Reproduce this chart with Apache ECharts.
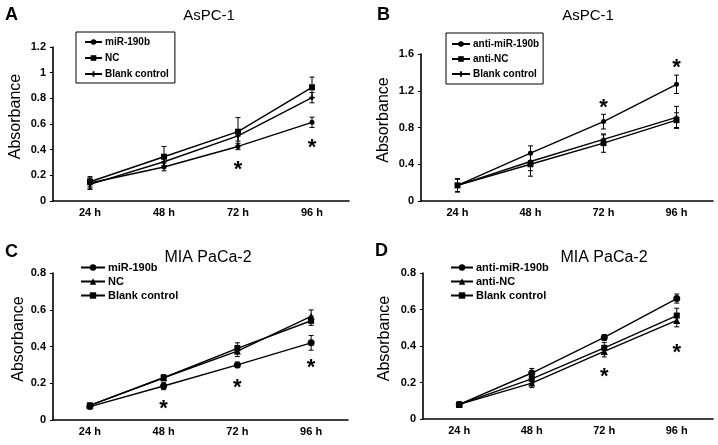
<!DOCTYPE html>
<html>
<head>
<meta charset="utf-8">
<script src="https://cdn.jsdelivr.net/npm/echarts@6/dist/echarts.min.js"></script>
<style>
html,body{margin:0;padding:0;background:#fff;}
#chart{width:718px;height:445px;}
</style>
</head>
<body>
<div id="chart"></div>
<script>
// ---------- data ----------
const timeLabels = ['24 h', '48 h', '72 h', '96 h'];

// Panel A: AsPC-1 (miR-190b)
const aNames = ['miR-190b', 'NC', 'Blank control'];
const aMir = [0.14, 0.265, 0.425, 0.613];
const aMirErr = [0.04, 0.03, 0.025, 0.04];
const aNC = [0.15, 0.345, 0.54, 0.886];
const aNCErr = [0.04, 0.08, 0.11, 0.08];
const aBlank = [0.13, 0.306, 0.507, 0.805];
const aBlankErr = [0.04, 0.03, 0.04, 0.04];
const aStars = [[2, 0.28], [3, 0.455]];
const aYMax = 1.2, aYStep = 0.2;

// Panel B: AsPC-1 (anti-miR-190b)
const bNames = ['anti-miR-190b', 'anti-NC', 'Blank control'];
const bMir = [0.17, 0.52, 0.864, 1.27];
const bMirErr = [0.07, 0.08, 0.08, 0.1];
const bNC = [0.17, 0.40, 0.63, 0.88];
const bNCErr = [0.07, 0.13, 0.1, 0.08];
const bBlank = [0.17, 0.43, 0.67, 0.91];
const bBlankErr = [0.07, 0.1, 0.05, 0.12];
const bStars = [[2, 1.065], [3, 1.50]];
const bYMax = 1.6, bYStep = 0.4;

// Panel C: MIA PaCa-2 (miR-190b)
const cNames = ['miR-190b', 'NC', 'Blank control'];
const cMir = [0.073, 0.185, 0.30, 0.42];
const cMirErr = [0.01, 0.02, 0.015, 0.04];
const cNC = [0.08, 0.23, 0.375, 0.564];
const cNCErr = [0.01, 0.015, 0.03, 0.035];
const cBlank = [0.08, 0.23, 0.39, 0.54];
const cBlankErr = [0.01, 0.015, 0.03, 0.025];
const cStars = [[1, 0.09], [2, 0.20], [3, 0.31]];
const cYMax = 0.8, cYStep = 0.2;

// Panel D: MIA PaCa-2 (anti-miR-190b)
const dNames = ['anti-miR-190b', 'anti-NC', 'Blank control'];
const dMir = [0.08, 0.252, 0.447, 0.66];
const dMirErr = [0.01, 0.025, 0.015, 0.025];
const dNC = [0.08, 0.197, 0.37, 0.54];
const dNCErr = [0.01, 0.025, 0.03, 0.035];
const dBlank = [0.08, 0.22, 0.39, 0.567];
const dBlankErr = [0.01, 0.025, 0.03, 0.04];
const dStars = [[2, 0.26], [3, 0.39]];
const dYMax = 0.8, dYStep = 0.2;

const panelTitles = ['AsPC-1', 'AsPC-1', 'MIA PaCa-2', 'MIA PaCa-2'];
const panelLetters = ['A', 'B', 'C', 'D'];

// ---------- layout / styles ----------
const FONT = '"Liberation Sans", Arial, Helvetica, sans-serif';
const PLUS = 'path://M2,0H4V2H6V4H4V6H2V4H0V2H2Z';

const panels = [
  { id: 'A', names: aNames, means: [aMir, aNC, aBlank], errs: [aMirErr, aNCErr, aBlankErr], stars: aStars,
    yMax: aYMax, yStep: aYStep,
    grid: { left: 53, top: 47, width: 296, height: 154 },
    symbols: ['circle', 'rect', PLUS], sizes: [5, 6, 5], nameGap: 29,
    legend: { left: 76, top: 32, padding: [5, 6, 4, 8], border: true, itemWidth: 17, itemHeight: 7, itemGap: 6, fontSize: 10 },
    title: { x: 209, y: 8, size: 15 }, letter: { x: 5, y: 6 } },
  { id: 'B', names: bNames, means: [bMir, bNC, bBlank], errs: [bMirErr, bNCErr, bBlankErr], stars: bStars,
    yMax: bYMax, yStep: bYStep,
    grid: { left: 421, top: 54, width: 292, height: 147 },
    symbols: ['circle', 'rect', PLUS], sizes: [5, 6, 5], nameGap: 29,
    legend: { left: 446, top: 33, padding: [6, 4, 5, 5], border: true, itemWidth: 18, itemHeight: 7, itemGap: 5, fontSize: 10 },
    title: { x: 588, y: 8, size: 15 }, letter: { x: 377, y: 6 } },
  { id: 'C', names: cNames, means: [cMir, cNC, cBlank], errs: [cMirErr, cNCErr, cBlankErr], stars: cStars,
    yMax: cYMax, yStep: cYStep,
    grid: { left: 53, top: 273, width: 295, height: 147 },
    symbols: ['circle', 'triangle', 'rect'], sizes: [7, 7, 6], nameGap: 19,
    legend: { left: 80, top: 262, padding: 0, border: false, itemWidth: 24, itemHeight: 8, itemGap: 3, fontSize: 11 },
    title: { x: 208, y: 250, size: 16 }, letter: { x: 5, y: 243 } },
  { id: 'D', names: dNames, means: [dMir, dNC, dBlank], errs: [dMirErr, dNCErr, dBlankErr], stars: dStars,
    yMax: dYMax, yStep: dYStep,
    grid: { left: 423, top: 273, width: 290, height: 146 },
    symbols: ['circle', 'triangle', 'rect'], sizes: [7, 7, 6], nameGap: 30,
    legend: { left: 450, top: 262, padding: 0, border: false, itemWidth: 22, itemHeight: 8, itemGap: 3, fontSize: 11 },
    title: { x: 604, y: 250, size: 16 }, letter: { x: 375, y: 242 } }
];

const grids = [], xAxes = [], yAxes = [], legends = [], titles = [], series = [];

function errRender(params, api) {
  const x = api.value(0);
  const lo = api.coord([x, api.value(1)]);
  const hi = api.coord([x, api.value(2)]);
  const w = 2.5;
  const st = { stroke: '#000', lineWidth: 1 };
  return {
    type: 'group',
    children: [
      { type: 'line', shape: { x1: lo[0], y1: lo[1], x2: hi[0], y2: hi[1] }, style: st },
      { type: 'line', shape: { x1: hi[0] - w, y1: hi[1], x2: hi[0] + w, y2: hi[1] }, style: st },
      { type: 'line', shape: { x1: lo[0] - w, y1: lo[1], x2: lo[0] + w, y2: lo[1] }, style: st }
    ]
  };
}

function starRender(params, api) {
  const p = api.coord([api.value(0), api.value(1)]);
  const fs = 22;
  return {
    type: 'text',
    x: p[0], y: p[1] + fs * 0.23,
    style: { text: '*', fill: '#000', font: 'bold ' + fs + 'px ' + FONT, align: 'center', verticalAlign: 'middle' }
  };
}

panels.forEach(function (p, i) {
  grids.push(Object.assign({ containLabel: false }, p.grid));
  xAxes.push({
    type: 'category', gridIndex: i, data: timeLabels, boundaryGap: true,
    axisLine: { show: true, lineStyle: { color: '#000', width: 1.6 } },
    axisTick: { show: false },
    axisLabel: { color: '#000', fontFamily: FONT, fontWeight: 'bold', fontSize: 11, margin: 6 }
  });
  yAxes.push({
    type: 'value', gridIndex: i, min: 0, max: p.yMax, interval: p.yStep,
    name: 'Absorbance', nameLocation: 'middle', nameRotate: 90, nameGap: p.nameGap,
    nameTextStyle: { color: '#000', fontFamily: FONT, fontSize: 16, padding: [0, 0, 0, 15] },
    axisLine: { show: true, lineStyle: { color: '#000', width: 1.6 } },
    axisTick: { show: true, inside: false, length: 3, lineStyle: { color: '#000', width: 1 } },
    splitLine: { show: false },
    axisLabel: { color: '#000', fontFamily: FONT, fontWeight: 'bold', fontSize: 11, margin: 7 }
  });
  const sNames = p.names.map(function (n) { return p.id + '|' + n; });
  legends.push({
    orient: 'vertical', left: p.legend.left, top: p.legend.top,
    padding: p.legend.padding,
    borderColor: '#000', borderWidth: p.legend.border ? 1 : 0,
    itemWidth: p.legend.itemWidth, itemHeight: p.legend.itemHeight, itemGap: p.legend.itemGap,
    selectedMode: false,
    data: sNames,
    formatter: function (n) { return n.split('|')[1]; },
    textStyle: { color: '#000', fontFamily: FONT, fontWeight: 'bold', fontSize: p.legend.fontSize, padding: [0, 0, 0, -2] }
  });
  titles.push({
    text: panelTitles[i], left: p.title.x, top: p.title.y, textAlign: 'center', padding: 0,
    textStyle: { color: '#000', fontFamily: FONT, fontWeight: 'normal', fontSize: p.title.size }
  });
  titles.push({
    text: panelLetters[i], left: p.letter.x, top: p.letter.y, padding: 0,
    textStyle: { color: '#000', fontFamily: FONT, fontWeight: 'bold', fontSize: 18 }
  });
  p.means.forEach(function (m, k) {
    series.push({
      type: 'line', name: sNames[k], xAxisIndex: i, yAxisIndex: i, data: m,
      symbol: p.symbols[k], symbolSize: p.sizes[k], showSymbol: true,
      lineStyle: { color: '#000', width: 1.4 }, itemStyle: { color: '#000' },
      emphasis: { disabled: true }, z: 3
    });
    series.push({
      type: 'custom', xAxisIndex: i, yAxisIndex: i, renderItem: errRender, z: 2,
      data: m.map(function (v, j) { return [j, v - p.errs[k][j], v + p.errs[k][j]]; })
    });
  });
  series.push({
    type: 'custom', xAxisIndex: i, yAxisIndex: i, renderItem: starRender, z: 4,
    data: p.stars
  });
});

const chart = echarts.init(document.getElementById('chart'), null, { renderer: 'canvas' });
chart.setOption({
  animation: false,
  backgroundColor: '#fff',
  title: titles,
  grid: grids,
  xAxis: xAxes,
  yAxis: yAxes,
  legend: legends,
  series: series
});
</script>
</body>
</html>
